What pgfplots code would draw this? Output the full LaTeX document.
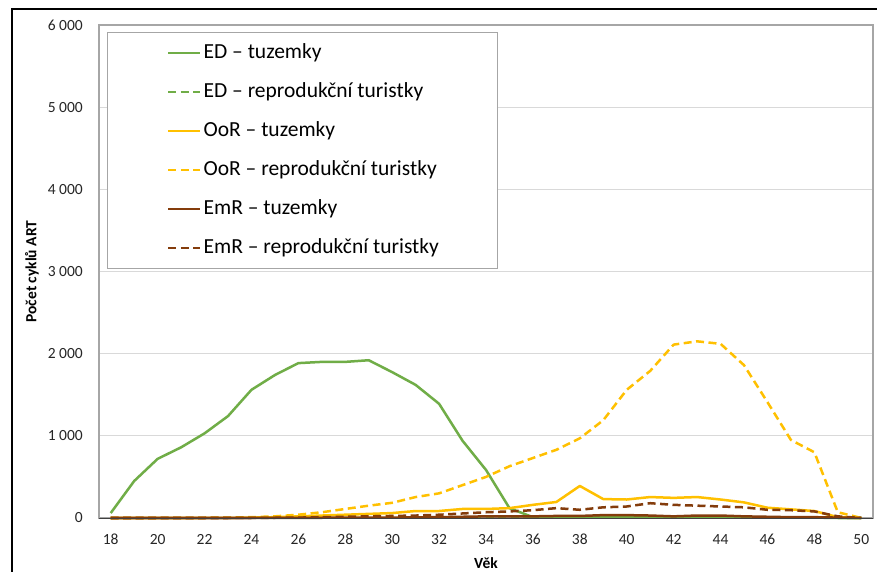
\documentclass[border=0pt]{standalone}
\usepackage{pgfplots}
\pgfplotsset{compat=1.18}
\usepackage{pgfplotstable}
\usepackage{fontspec}
\setmainfont{Carlito}
\definecolor{cED}{HTML}{70AD47}
\definecolor{cOoR}{HTML}{FFC000}
\definecolor{cEmR}{HTML}{843C0C}
\definecolor{gridc}{HTML}{D9D9D9}
\definecolor{framec}{HTML}{A6A6A6}

\pgfplotstableread{
x  EDt   EDr  OoRt OoRr EmRt EmRr
18 60    0    0    0    0    0
19 450   0    0    0    0    0
20 720   0    0    0    0    0
21 860   0    0    2    0    0
22 1030  0    0    3    0    0
23 1240  0    2    5    0    0
24 1560  0    5    10   0    2
25 1740  0    10   20   2    3
26 1885  0    20   40   3    5
27 1900  0    30   70   3    10
28 1900  0    40   110  5    15
29 1920  0    50   150  5    20
30 1775  0    60   185  5    25
31 1620  0    85   255  8    30
32 1390  0    85   300  10   40
33 940   0    110  400  15   55
34 585   0    110  500  20   70
35 120   0    120  630  20   80
36 10    0    160  730  20   95
37 10    0    195  830  25   120
38 10    0    390  970  25   100
39 10    0    230  1190 35   130
40 10    0    225  1560 35   140
41 10    0    255  1790 30   180
42 10    0    245  2110 20   160
43 10    0    255  2150 30   150
44 10    0    225  2120 30   140
45 5     0    190  1860 20   130
46 5     0    125  1410 15   100
47 5     0    105  950  10   95
48 5     0    85   800  10   80
49 0     0    10   70   5    20
50 0     0    0    0    0    0
}\datatable

\begin{document}
\begin{tikzpicture}
\useasboundingbox (0,0) rectangle (877bp,572bp);
\fill[white] (0,0) rectangle (877bp,572bp);
\draw[black, line width=1.3bp] (12bp,0) -- (12bp,563bp) -- (877bp,563bp);
\begin{axis}[
  at={(99bp,54bp)}, anchor=south west,
  scale only axis, width=774bp, height=493bp,
  xmin=17.5, xmax=50.5, ymin=0, ymax=6000,
  xtick={18,20,...,50},
  ytick={0,1000,...,6000},
  yticklabels={0,1 000,2 000,3 000,4 000,5 000,6 000},
  /pgf/number format/assume math mode=true,
  major tick length=0pt,
  axis line style={draw=none},
  ymajorgrids, grid style={gridc, line width=1.2bp},
  ticklabel style={font=\fontsize{15.5bp}{18bp}\selectfont, text=black!85, inner sep=0pt},
  yticklabel style={anchor=east, xshift=-16bp},
  xticklabel style={anchor=north, yshift=-16bp},
  xlabel={Věk}, ylabel={Počet cyklů ART},
  label style={font=\fontsize{15.5bp}{18bp}\selectfont\bfseries, text=black},
  xlabel style={at={(axis description cs:0.5,-0.0913)}, anchor=center},
  ylabel style={at={(axis description cs:-0.0866,0.5)}, anchor=center},
  legend style={at={(axis description cs:0.0103,0.986)}, anchor=north west,
    draw=framec, line width=0.8bp, inner xsep=5bp, inner ysep=11bp,
    font=\fontsize{21.5bp}{25bp}\selectfont,
    row sep=20bp, column sep=2bp,
    nodes={inner sep=0pt, text height=15bp, text depth=4bp, anchor=west}},
  legend cell align=left,
  legend image code/.code={\path[draw=none] (-56bp,0bp) -- (0bp,0bp); \draw[#1] (0bp,0bp) -- (32bp,0bp);},
  every axis plot/.append style={line width=2.5bp, line join=round, line cap=butt},
  clip=false,
]
\draw[framec, line width=1.2bp] (rel axis cs:0,0) rectangle (rel axis cs:1,1);
\addplot[cED, no marks] table[x=x,y=EDt] {\datatable};
\addlegendentry{\makebox[289bp][l]{ED – tuzemky}}
\addplot[cED, no marks, dash pattern=on 8bp off 4.5bp] table[x=x,y=EDr] {\datatable};
\addlegendentry{\makebox[289bp][l]{ED – reprodukční turistky}}
\addplot[cOoR, no marks] table[x=x,y=OoRt] {\datatable};
\addlegendentry{\makebox[289bp][l]{OoR – tuzemky}}
\addplot[cOoR, no marks, dash pattern=on 8bp off 4.5bp] table[x=x,y=OoRr] {\datatable};
\addlegendentry{\makebox[289bp][l]{OoR – reprodukční turistky}}
\addplot[cEmR, no marks] table[x=x,y=EmRt] {\datatable};
\addlegendentry{\makebox[289bp][l]{EmR – tuzemky}}
\addplot[cEmR, no marks, dash pattern=on 8bp off 4.5bp] table[x=x,y=EmRr] {\datatable};
\addlegendentry{\makebox[289bp][l]{EmR – reprodukční turistky}}
\draw[black!75, line width=1bp] (rel axis cs:0,0) -- (rel axis cs:1,0);
\end{axis}
\end{tikzpicture}
\end{document}
